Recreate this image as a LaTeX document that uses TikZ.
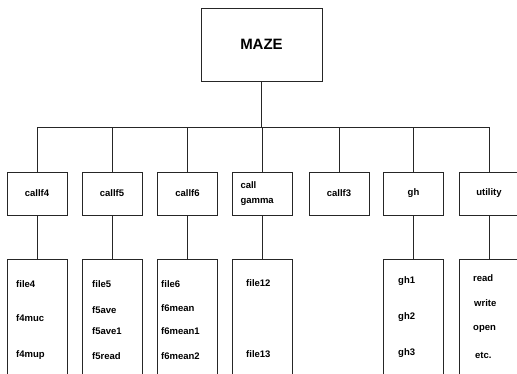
\documentclass[tikz,border=0pt]{standalone}
\usepackage{fontspec}
\setsansfont{Liberation Sans}
\usetikzlibrary{positioning}

\begin{document}
\begin{tikzpicture}[x=1pt, y=-1pt,
  line/.style={line width=0.8pt, black!85},
  box/.style={draw=black!85, line width=0.8pt, rectangle, inner sep=0pt, font=\sffamily\bfseries\fontsize{9.5}{11}\selectfont},
  top/.style={box, minimum width=121pt, minimum height=73pt, font=\sffamily\bfseries\fontsize{15}{17}\selectfont},
  call/.style={box, minimum width=60pt, minimum height=43pt},
  files/.style={box, minimum width=60pt, minimum height=130pt},
  item/.style={anchor=west, inner sep=0pt, font=\sffamily\bfseries\fontsize{9.5}{11}\selectfont}]
  \useasboundingbox (0,0) rectangle (517,374);
  \clip (0,0) rectangle (517,374);
  % root
  \node[top] (maze) at (261.5,44.5) {MAZE};
  \coordinate (bus) at (261.5,127);
  % callers
  \node[call] (cf4)  at (37,193.5)    {callf4};
  \node[call] (cf5)  at (112,193.5)   {callf5};
  \node[call] (cf6)  at (187.5,193.5) {callf6};
  \node[call, text width=44pt, align=left, inner sep=8pt] (cgam) at (262.5,193.5) {call\\[4pt]gamma};
  \node[call] (cf3)  at (339,193.5)   {callf3};
  \node[call] (gh)   at (413.5,193.5) {gh};
  \node[call] (util) at (489,193.5)   {utility};
  % file boxes (run past the bottom edge)
  \node[files] (lf4)   at (37,324)    {};
  \node[files] (lf5)   at (112,324)   {};
  \node[files] (lf6)   at (187.5,324) {};
  \node[files] (lgam)  at (262.5,324) {};
  \node[files] (lgh)   at (413.5,324) {};
  \node[files] (lutil) at (489,324)   {};
  % file names
  \node[item] (file4)  at (16,284)  {file4};
  \node[item] (f4muc)  at (16,318)  {f4muc};
  \node[item] (f4mup)  at (16,355)  {f4mup};
  \node[item] (file5)  at (92,284)  {file5};
  \node[item] (f5ave)  at (92,310)  {f5ave};
  \node[item] (f5ave1) at (92,331)  {f5ave1};
  \node[item] (f5read) at (92,356)  {f5read};
  \node[item] (file6)  at (161,284) {file6};
  \node[item] (f6m)    at (161,308) {f6mean};
  \node[item] (f6m1)   at (161,331) {f6mean1};
  \node[item] (f6m2)   at (161,356) {f6mean2};
  \node[item] (file12) at (246,283) {file12};
  \node[item] (file13) at (246,354) {file13};
  \node[item] (gh1)    at (398,281) {gh1};
  \node[item] (gh2)    at (398,317) {gh2};
  \node[item] (gh3)    at (398,353) {gh3};
  \node[item] (rd)     at (473,278) {read};
  \node[item] (wr)     at (474,303) {write};
  \node[item] (op)     at (473,329) {open};
  \node[item] (etc)    at (475,355) {etc.};
  % tree
  \draw[line] (maze) -- (bus);
  \foreach \n in {cf4, cf5, cf6, cgam, cf3, gh, util}
    \draw[line] (bus) -| (\n.north);
  \foreach \a/\b in {cf4/lf4, cf5/lf5, cf6/lf6, cgam/lgam, gh/lgh, util/lutil}
    \draw[line] (\a) -- (\b);
\end{tikzpicture}
\end{document}
